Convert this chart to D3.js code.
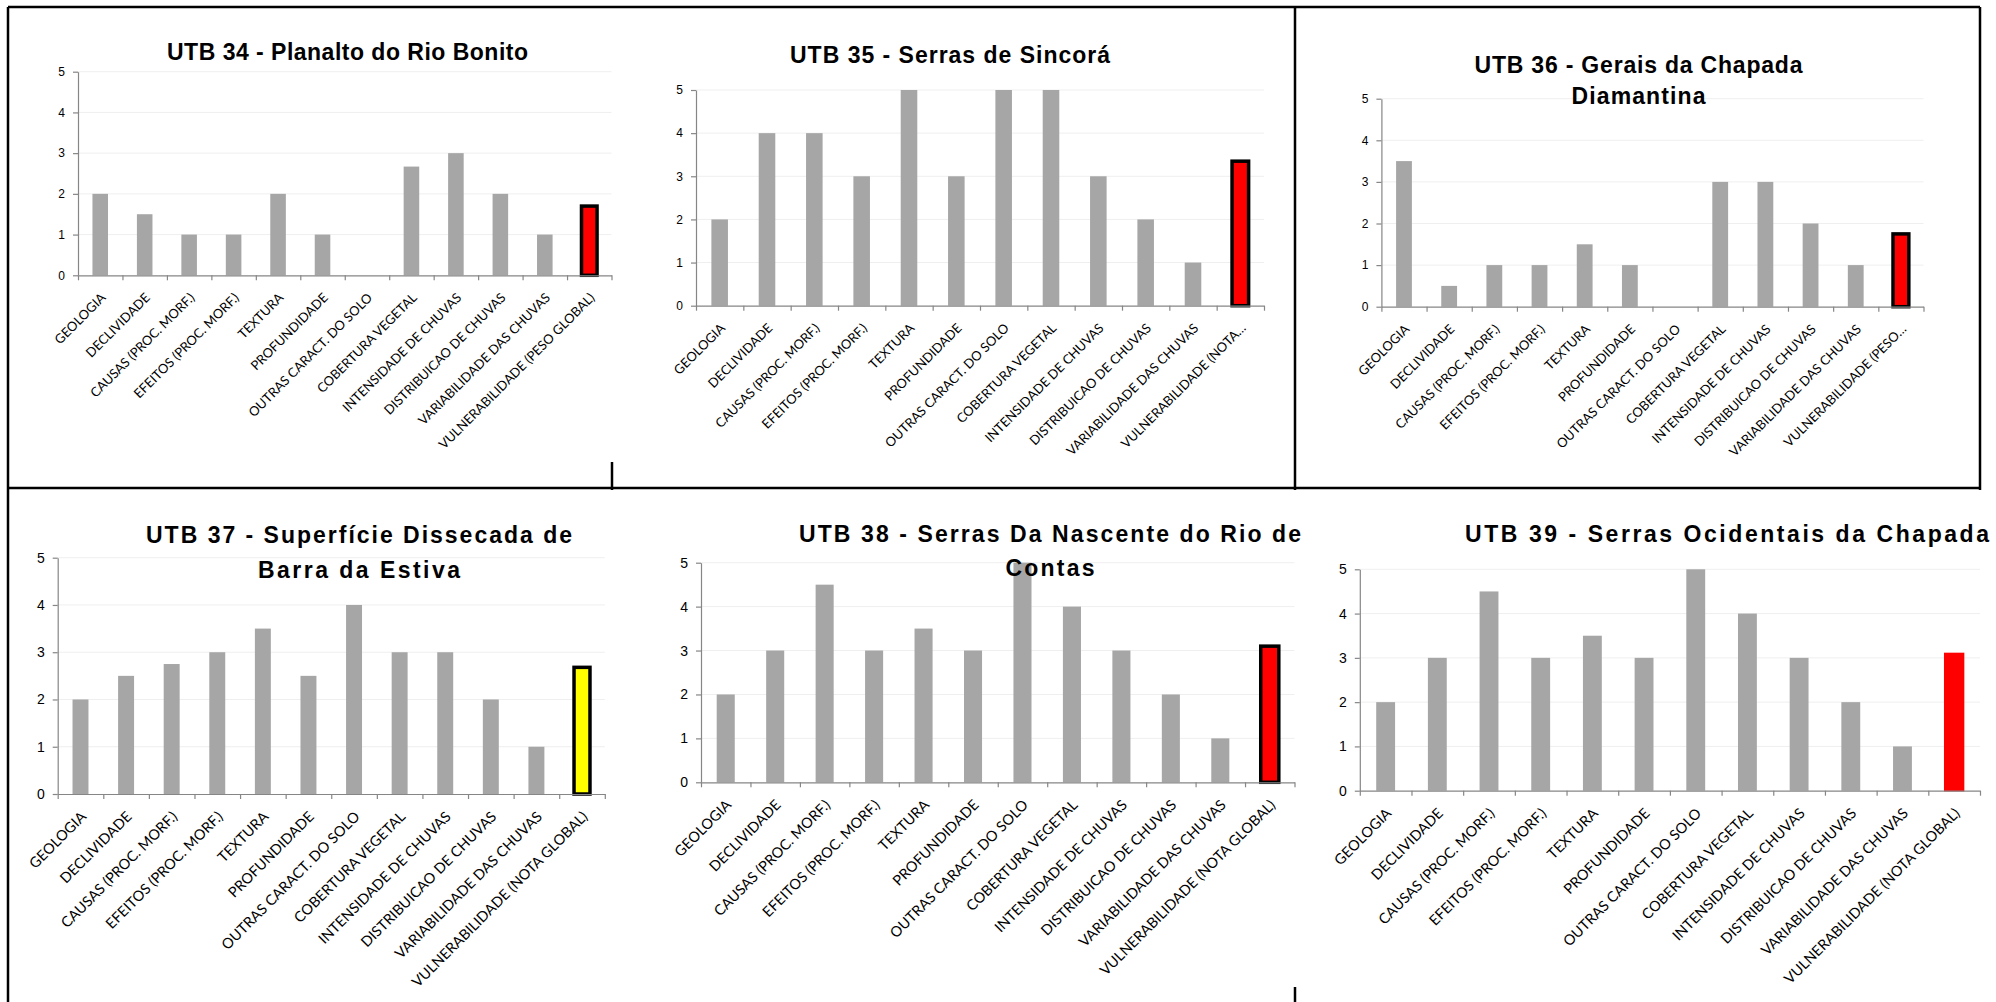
<!DOCTYPE html>
<html>
<head>
	<meta charset="utf-8">
	<title>UTB - Vulnerabilidade</title>
	<script type="text/javascript" src="https://cdn.jsdelivr.net/npm/d3@7"></script>
	<style>
		body {
			margin: 0;
			background: #fff;
		}
	</style>
</head>

<body>

	<div id="chart"></div>

	<script>

		// data

		const factors = [
			"GEOLOGIA", "DECLIVIDADE", "CAUSAS (PROC. MORF.)", "EFEITOS (PROC. MORF.)",
			"TEXTURA", "PROFUNDIDADE", "OUTRAS CARACT. DO SOLO", "COBERTURA VEGETAL",
			"INTENSIDADE DE CHUVAS", "DISTRIBUICAO DE CHUVAS", "VARIABILIDADE DAS CHUVAS"
		];
		const finalLabels = [
			"VULNERABILIDADE (PESO GLOBAL)", "VULNERABILIDADE (NOTA…", "VULNERABILIDADE (PESO…",
			"VULNERABILIDADE (NOTA GLOBAL)", "VULNERABILIDADE (NOTA GLOBAL)", "VULNERABILIDADE (NOTA GLOBAL)"
		];
		const titles = [
			["UTB 34 - Planalto do Rio Bonito"],
			["UTB 35 - Serras de Sincorá"],
			["UTB 36 - Gerais da Chapada", "Diamantina"],
			["UTB 37 - Superfície Dissecada de", "Barra da Estiva"],
			["UTB 38 - Serras Da Nascente do Rio de", "Contas"],
			["UTB 39 -  Serras Ocidentais da Chapada"]
		];
		const utb34 = [2, 1.5, 1, 1, 2, 1, 0, 2.67, 3, 2, 1, 1.7];
		const utb35 = [2, 4, 4, 3, 5, 3, 5, 5, 3, 2, 1, 3.35];
		const utb36 = [3.5, 0.5, 1, 1, 1.5, 1, 0, 3, 3, 2, 1, 1.75];
		const utb37 = [2, 2.5, 2.75, 3, 3.5, 2.5, 4, 3, 3, 2, 1, 2.68];
		const utb38 = [2, 3, 4.5, 3, 3.5, 3, 5, 4, 3, 2, 1, 3.1];
		const utb39 = [2, 3, 4.5, 3, 3.5, 3, 5, 4, 3, 2, 1, 3.1];
		const series = [utb34, utb35, utb36, utb37, utb38, utb39];
		const finalColors = ["#ff0000", "#ff0000", "#ff0000", "#ffff00", "#ff0000", "#ff0000"];
		const yTicks = [0, 1, 2, 3, 4, 5];

		// layout of the six pasted charts

		const width = 1996;
		const height = 1002;
		const panels = [
			{ x0: 78, x1: 611.5, yTop: 71.7, yBot: 275.3, tick: 12, lab: 13, bar: 0.35, outline: true, tx: 347.5, ty: [60], tw: [361] },
			{ x0: 696, x1: 1264, yTop: 90, yBot: 305.7, tick: 12, lab: 13, bar: 0.35, outline: true, tx: 950, ty: [63], tw: [320] },
			{ x0: 1381.4, x1: 1923.5, yTop: 98.7, yBot: 306.7, tick: 12, lab: 13, bar: 0.35, outline: true, tx: 1638.5, ty: [73, 104], tw: [328, 134] },
			{ x0: 57.7, x1: 604.8, yTop: 557.7, yBot: 794, tick: 14, lab: 14.5, bar: 0.35, outline: true, tx: 359, ty: [543, 578], tw: [426, 202] },
			{ x0: 701, x1: 1294.5, yTop: 562.7, yBot: 782.3, tick: 14, lab: 14.5, bar: 0.365, outline: true, tx: 1050, ty: [542, 576], tw: [502, 89] },
			{ x0: 1359.8, x1: 1980, yTop: 569.3, yBot: 790.7, tick: 14, lab: 14.5, bar: 0.365, outline: false, tx: 1727, ty: [542], tw: [524] }
		];

		const svg = d3.select("#chart")
			.append("svg")
			.attr("width", width)
			.attr("height", height)
			.attr("viewBox", [0, 0, width, height]);

		svg.append("rect").attr("width", width).attr("height", height).attr("fill", "#fff");

		// frame lines around the pasted charts
		const frame = [
			[8, 7, 1980, 7], [8, 7, 8, height], [8, 488, 1980, 488],
			[1295, 7, 1295, 490], [1980, 7, 1980, 490], [612, 462, 612, 490],
			[1295, 987, 1295, height]
		];
		svg.append("g")
			.selectAll("line")
			.data(frame)
			.join("line")
			.attr("x1", d => d[0]).attr("y1", d => d[1])
			.attr("x2", d => d[2]).attr("y2", d => d[3])
			.attr("stroke", "#000")
			.attr("stroke-width", 2.5);

		panels.forEach((p, k) => {
			const cats = factors.concat([finalLabels[k]]);
			const values = series[k];

			const x = d3.scaleBand().domain(cats).range([p.x0, p.x1]);
			const xLin = d3.scaleLinear().domain([0, cats.length]).range([p.x0, p.x1]);
			const y = d3.scaleLinear().domain([0, 5]).range([p.yBot, p.yTop]);

			const g = svg.append("g");

			// gridlines
			g.append("g")
				.selectAll("line")
				.data(yTicks.filter(t => t > 0))
				.join("line")
				.attr("x1", p.x0).attr("x2", p.x1)
				.attr("y1", d => y(d)).attr("y2", d => y(d))
				.attr("stroke", "#efefef");

			// bars
			const bw = x.bandwidth() * p.bar;
			g.append("g")
				.selectAll("rect")
				.data(values)
				.join("rect")
				.attr("x", (d, i) => x(cats[i]) + (x.bandwidth() - bw) / 2)
				.attr("width", bw)
				.attr("y", d => y(d))
				.attr("height", d => y(0) - y(d))
				.attr("fill", (d, i) => i === values.length - 1 ? finalColors[k] : "#a6a6a6")
				.attr("stroke", (d, i) => i === values.length - 1 ? (p.outline ? "#000" : finalColors[k]) : "none")
				.attr("stroke-width", (d, i) => i === values.length - 1 ? (p.outline ? 3.5 : 1.5) : 0);

			// y axis
			const ya = g.append("g")
				.attr("transform", `translate(${p.x0},0)`)
				.call(d3.axisLeft(y).tickValues(yTicks).tickFormat(d3.format("d"))
					.tickSize(5).tickSizeOuter(0).tickPadding(8));
			ya.selectAll("text")
				.attr("font-family", "'Liberation Sans', Arial, sans-serif")
				.attr("font-size", p.tick)
				.attr("fill", "#000");

			// x axis with ticks between categories
			const xa = g.append("g")
				.attr("transform", `translate(0,${p.yBot})`)
				.call(d3.axisBottom(xLin).tickValues(d3.range(cats.length + 1)).tickSize(5).tickSizeOuter(0).tickFormat(""));

			[ya, xa].forEach(a => {
				a.select(".domain").attr("stroke", "#868686").attr("stroke-width", 1.2);
				a.selectAll(".tick line").attr("stroke", "#868686").attr("stroke-width", 1.2);
			});

			// category labels
			g.append("g")
				.selectAll("text")
				.data(cats)
				.join("text")
				.attr("transform", d => `translate(${x(d) + x.bandwidth() / 2 + 3},${p.yBot + 20}) rotate(-45)`)
				.attr("text-anchor", "end")
				.attr("dy", "0.35em")
				.attr("font-family", "Lato, 'DejaVu Sans', sans-serif")
				.attr("font-size", p.lab)
				.attr("fill", "#000")
				.text(d => d);

			// title
			g.append("g")
				.selectAll("text")
				.data(titles[k])
				.join("text")
				.attr("x", p.tx)
				.attr("y", (d, i) => p.ty[i])
				.attr("text-anchor", "middle")
				.attr("font-family", "'Liberation Sans Narrow', 'Liberation Sans', Arial, sans-serif")
				.attr("font-weight", "bold")
				.attr("font-size", 23)
				.attr("textLength", (d, i) => p.tw[i])
				.attr("lengthAdjust", "spacing")
				.attr("fill", "#000")
				.text(d => d);
		});

	</script>

</body>

</html>
